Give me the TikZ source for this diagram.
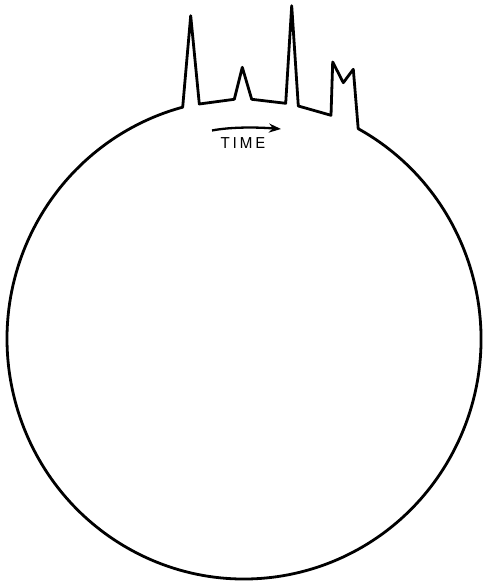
\documentclass[tikz,border=0pt]{standalone}
\usepackage{fontspec}
\newfontfamily\timefont{TeX Gyre Heros}
\usetikzlibrary{arrows.meta}

\begin{document}
\begin{tikzpicture}[x=1pt,y=1pt,line join=round]
  \useasboundingbox (0,0) rectangle (482,581);

  % Circle with the trace of peaks on top
  \draw[line width=2.8pt] (358.2,452.3)
    arc[start angle=61.2,end angle=-255,x radius=237,y radius=240]
    -- (190.7,565.3) -- (199.3,477) -- (234.3,481.7)
    -- (242.3,513.7) -- (251.7,481.7) -- (285.7,477.7)
    -- (291.7,575.3) -- (298.3,475) -- (331,465.7)
    -- (332.7,519) -- (343.3,498.3) -- (353.3,511.7) -- cycle;

  % Time arrow
  \coordinate (tstart) at (212,450.5);
  \coordinate (tend) at (281,452);
  \draw[line width=2.3pt,-{Stealth[length=12pt,width=9pt]}] (tstart) .. controls (230,454) and (255,454) .. (tend);
  \node (time) at (243,438) {\timefont\fontsize{15}{15}\selectfont T\hspace{3pt}I\hspace{3pt}M\hspace{3pt}E};
\end{tikzpicture}
\end{document}
